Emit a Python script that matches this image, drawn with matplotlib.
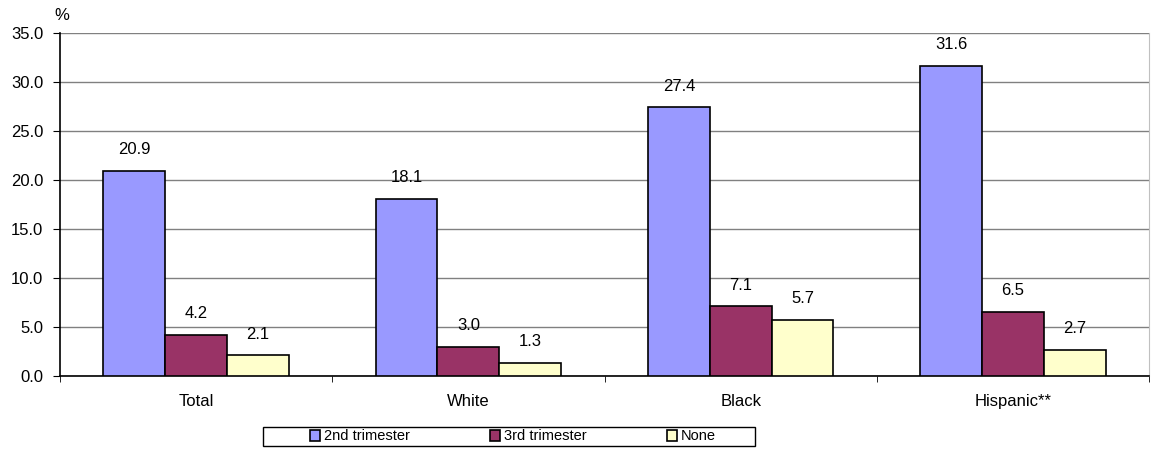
import matplotlib
matplotlib.use("Agg")
import matplotlib.pyplot as plt
from matplotlib.patches import Rectangle
import numpy as np

plt.rcParams['font.family'] = ['Liberation Sans', 'DejaVu Sans']

categories = ["Total", "White", "Black", "Hispanic**"]
series_names = ["2nd trimester", "3rd trimester", "None"]
second_tri = [20.9, 18.1, 27.4, 31.6]
third_tri = [4.2, 3.0, 7.1, 6.5]
none_vals = [2.1, 1.3, 5.7, 2.7]
colors = ["#9999FF", "#993366", "#FFFFCC"]

fig = plt.figure(figsize=(11.51, 4.66), dpi=100)
ax = fig.add_axes([60/1151, 1-376/466, 1089/1151, 343/466])

x = np.arange(len(categories))
w = 0.227
for i, (vals, c, name) in enumerate(zip([second_tri, third_tri, none_vals], colors, series_names)):
    pos = x + (i - 1) * w
    bars = ax.bar(pos, vals, width=w, color=c, edgecolor="black", linewidth=1.2, label=name, zorder=3)
    for b, v in zip(bars, vals):
        ax.annotate(f"{v:.1f}", (b.get_x() + b.get_width()/2, v), xytext=(0, 10),
                    textcoords="offset points", ha="center", va="bottom", fontsize=12)

ax.set_xlim(-0.5, len(categories) - 0.5)
ax.set_ylim(0, 35)
ax.set_yticks(np.arange(0, 35.1, 5))
ax.set_yticklabels([f"{v:.1f}" for v in np.arange(0, 35.1, 5)], fontsize=12)
ax.set_xticks(x)
ax.set_xticklabels(categories, fontsize=12)
ax.tick_params(axis='x', length=0, pad=13)
ax.set_xticks(np.arange(-0.5, len(categories), 1), minor=True)
ax.tick_params(axis='x', which='minor', length=4, direction='out', color='black')
ax.tick_params(axis='y', length=5, direction='out', pad=7)
ax.yaxis.grid(True, color="#808080", linewidth=1, zorder=0)
ax.set_axisbelow(True)
ax.spines["top"].set_visible(False)
ax.spines["right"].set_color("#c0c0c0")
ax.spines["left"].set_color("black")
ax.spines["bottom"].set_color("black")
ax.spines["left"].set_linewidth(1.2)
ax.spines["bottom"].set_linewidth(1.2)

fig.text(62/1151, 1-15/466, "%", fontsize=12, ha="center", va="center")

# legend frame
fig.patches.append(Rectangle((263/1151, 1-446/466), (755-263)/1151, 19/466,
                             transform=fig.transFigure, facecolor="white",
                             edgecolor="black", linewidth=1.0))
leg = fig.legend(loc="center", bbox_to_anchor=(513/1151, 1-436.5/466), ncol=3, frameon=False,
                 fontsize=10.5, handlelength=0.7, handleheight=0.7,
                 columnspacing=5.45, handletextpad=0.3, borderpad=0.2)

fig.savefig("out.png", dpi=100)
